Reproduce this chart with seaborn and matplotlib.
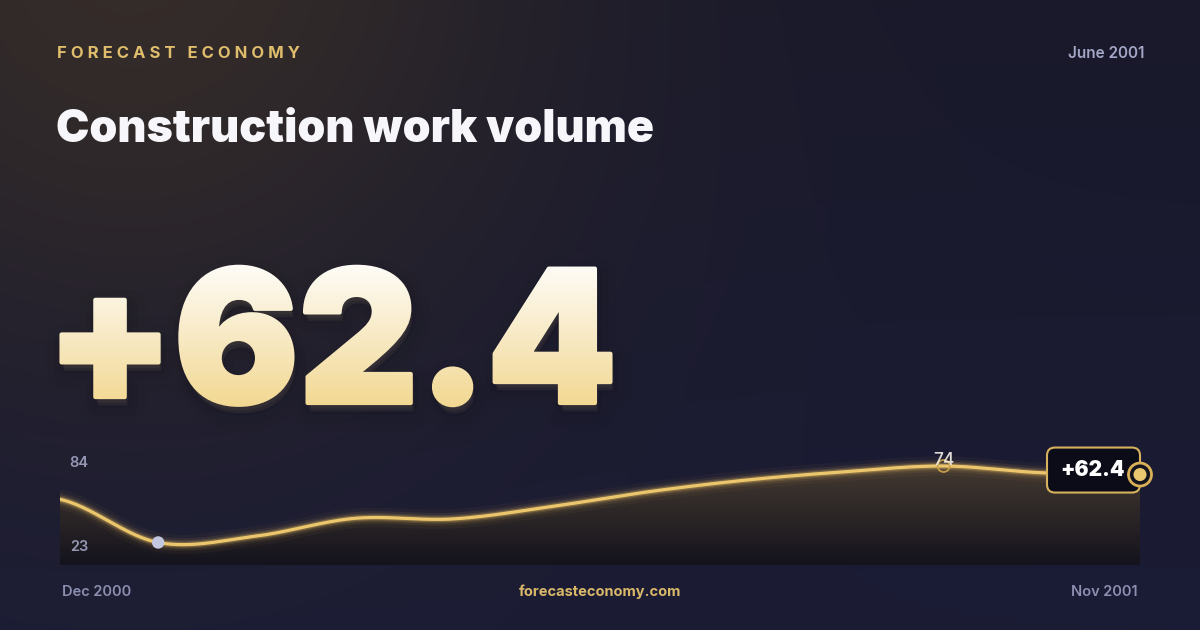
import numpy as np
import pandas as pd
import matplotlib
matplotlib.use('Agg')
import matplotlib.pyplot as plt
import matplotlib.patheffects as pe
import seaborn as sns
from matplotlib import font_manager as fm
from matplotlib.patches import FancyBboxPatch, Circle
from matplotlib.transforms import Bbox
from matplotlib.colors import to_rgb

# %% data
months = ['Dec 2000', 'Jan 2001', 'Feb 2001', 'Mar 2001', 'Apr 2001', 'May 2001',
          'Jun 2001', 'Jul 2001', 'Aug 2001', 'Sep 2001', 'Oct 2001', 'Nov 2001']
values = [51.8, 23.0, 27.3, 39.1, 38.7, 46.9, 56.9, 64.7, 70.2, 74.0, 69.5, 68.3]
axis_labels = ['84', '23']
headline = '+62.4'
title = 'Construction work volume'
brand = 'FORECAST ECONOMY'
site = 'forecasteconomy.com'
date_label = 'June 2001'

df = pd.DataFrame({'month': months, 'value': values})
df['i'] = np.arange(len(df))

GOLD = '#ebc66c'
GREY = '#9597b5'


def catmull_rom(y, n=30):
    y = np.asarray(y, float)
    p = np.concatenate([[y[0]], y, [y[-1]]])
    xs, ys = [], []
    for k in range(len(y) - 1):
        p0, p1, p2, p3 = p[k:k + 4]
        t = np.linspace(0, 1, n, endpoint=False)
        ys.append(0.5 * (2 * p1 + (-p0 + p2) * t + (2 * p0 - 5 * p1 + 4 * p2 - p3) * t ** 2
                         + (-p0 + 3 * p1 - 3 * p2 + p3) * t ** 3))
        xs.append(k + t)
    xs.append([len(y) - 1])
    ys.append([y[-1]])
    return np.concatenate(xs), np.concatenate(ys)


class GradientFill(pe.AbstractPathEffect):
    """fill (and slightly embolden) glyphs row by row with a vertical gradient"""
    def __init__(self, c_top, c_bot, y_bot, y_top, lw=0):
        super().__init__()
        self.c_top = np.array(to_rgb(c_top))
        self.c_bot = np.array(to_rgb(c_bot))
        self.y_bot, self.y_top, self.lw = y_bot, y_top, lw

    def draw_path(self, renderer, gc, tpath, affine, rgbFace=None):
        for y in range(int(self.y_bot) - 4, int(self.y_top) + 5):
            f = np.clip((y - self.y_bot) / (self.y_top - self.y_bot), 0, 1)
            col = tuple(self.c_bot * (1 - f) + self.c_top * f)
            gc0 = renderer.new_gc()
            gc0.copy_properties(gc)
            gc0.set_clip_rectangle(Bbox.from_extents(0, y, 1200, y + 1))
            gc0.set_foreground(col)
            gc0.set_linewidth(self.lw)
            gc0.set_joinstyle('round')
            renderer.draw_path(gc0, tpath, affine, col)
            gc0.restore()


def font_file(name):
    for f in fm.fontManager.ttflist:
        if f.fname.endswith(name):
            return f.fname
    return None


sns.set_theme(style='white')
plt.rcParams['font.family'] = ['Inter', 'DejaVu Sans']

black_file = font_file('Inter-Black.otf')


def black(size):
    if black_file:
        return fm.FontProperties(fname=black_file, size=size)
    return fm.FontProperties(family='Inter', weight='black', size=size)


fig = plt.figure(figsize=(12, 6.3), dpi=100)

# %% background
bg = fig.add_axes([0, 0, 1, 1], zorder=0)
yy, xx = np.mgrid[0:630, 0:1200]
t = (yy / 629.0)[..., None]
img = np.array(to_rgb('#19192b')) * (1 - t) + np.array(to_rgb('#1b1c35')) * t
d = np.hypot(xx - 130, yy + 60)
w = (np.exp(-(d / 430.0) ** 2) * 0.85)[..., None]
img = img * (1 - w) + np.array(to_rgb('#3a3029')) * w
bg.imshow(img, extent=(0, 1200, 0, 630), origin='upper', aspect='auto')
bg.set_xlim(0, 1200)
bg.set_ylim(0, 630)
bg.axis('off')

# %% sparkline
ax = fig.add_axes([60 / 1200, 65 / 630, 1080 / 1200, 114 / 630], zorder=2)
ax.patch.set_alpha(0)
ymin, ymax = 8, 84

xs, ys = catmull_rom(values)
curve = pd.DataFrame({'x': xs, 'y': ys})

area = ax.fill_between(curve['x'], curve['y'], ymin, color='none', lw=0)
grad = np.linspace(0, 1, 256)[:, None, None]
area_img = np.array(to_rgb('#4a3e33')) * (1 - grad) + np.array(to_rgb('#14131d')) * grad
im = ax.imshow(area_img, extent=(0, len(values) - 1, ymin, ymax), origin='upper',
               aspect='auto', zorder=1)
im.set_clip_path(area.get_paths()[0], transform=ax.transData)

for lw, a in [(14, 0.04), (9, 0.08), (6, 0.14), (4, 0.25)]:
    sns.lineplot(data=curve, x='x', y='y', sort=False, estimator=None, ax=ax,
                 color='#f2c463', lw=lw, alpha=a, zorder=2)
sns.lineplot(data=curve, x='x', y='y', sort=False, estimator=None, ax=ax,
             color=GOLD, lw=2.3, zorder=3)

lo = df['value'].idxmin()
hi = df['value'].idxmax()
sns.scatterplot(data=df.loc[[lo]], x='i', y='value', ax=ax, s=80, color='#c3c7df',
                edgecolor='none', zorder=5)
sns.scatterplot(data=df.loc[[hi]], x='i', y='value', ax=ax, s=75, facecolor='none',
                edgecolor='#c9a04a', linewidth=1.2, zorder=5)
ax.annotate(f"{df['value'][hi]:.0f}", (hi, df['value'][hi]), xytext=(0, 4),
            textcoords='offset points', ha='center', va='center', fontsize=12.5,
            fontweight='medium', color='#f4f0e8', alpha=0.9, zorder=6)

ax.text(0.009, 0.895, axis_labels[0], transform=ax.transAxes, fontsize=10.5,
        fontweight='semibold', color=GREY, va='center')
ax.text(0.009, 0.155, axis_labels[1], transform=ax.transAxes, fontsize=10.5,
        fontweight='semibold', color=GREY, va='center')

ax.set_xlim(0, len(values) - 1)
ax.set_ylim(ymin, ymax)
ax.axis('off')

# %% overlay (pixel coordinates)
top = fig.add_axes([0, 0, 1, 1], zorder=3)
top.patch.set_alpha(0)
top.set_xlim(0, 1200)
top.set_ylim(0, 630)
top.axis('off')

top.text(57, 577, ' '.join(brand), fontsize=12, fontweight='bold',
         color='#dfbd6c', va='center')
top.text(1144, 576, date_label, fontsize=11, fontweight='semibold', color='#a3a6c4',
         ha='right', va='center')
top.text(56, 488, title, fontproperties=black(32.2), color='#f7f7fb', va='baseline')

big = top.text(46, 227, headline, fontproperties=black(133), color='#f3dc9f',
               va='baseline')
big.set_path_effects([
    pe.Stroke(offset=(2, -6), linewidth=26, foreground='#05050b', alpha=0.03),
    pe.Stroke(offset=(2, -6), linewidth=16, foreground='#05050b', alpha=0.04),
    pe.Stroke(offset=(1, -4), linewidth=8, foreground='#05050b', alpha=0.05),
    GradientFill('#fdfcf8', '#f2d893', 225, 367, lw=3),
])

top.text(62, 38, months[0], fontsize=10.5, fontweight='semibold', color='#8c8fb0',
         va='center')
top.text(1138, 38, months[-1], fontsize=10.5, fontweight='semibold', color='#8c8fb0',
         ha='right', va='center')
top.text(600, 38, site, fontsize=10.5, fontweight='bold', color='#d9b86a',
         ha='center', va='center')

# badge on last point
px, py = ax.transData.transform((len(values) - 1, values[-1]))
top.add_patch(FancyBboxPatch((px - 93, py - 18), 93, 45,
                             boxstyle='round,pad=0,rounding_size=8',
                             fc='#0b0c18', ec='#d6b25e', lw=1.5, zorder=6))
top.text(px - 47, py + 5, headline, fontproperties=black(15), color='white',
         ha='center', va='center', zorder=7)
top.add_patch(Circle((px, py), 11.5, fc='#15141d', ec='#d9b058', lw=2, zorder=8))
top.add_patch(Circle((px, py), 6.5, fc='#e9c870', ec='none', zorder=9))

fig.savefig('out.png', dpi=100)
